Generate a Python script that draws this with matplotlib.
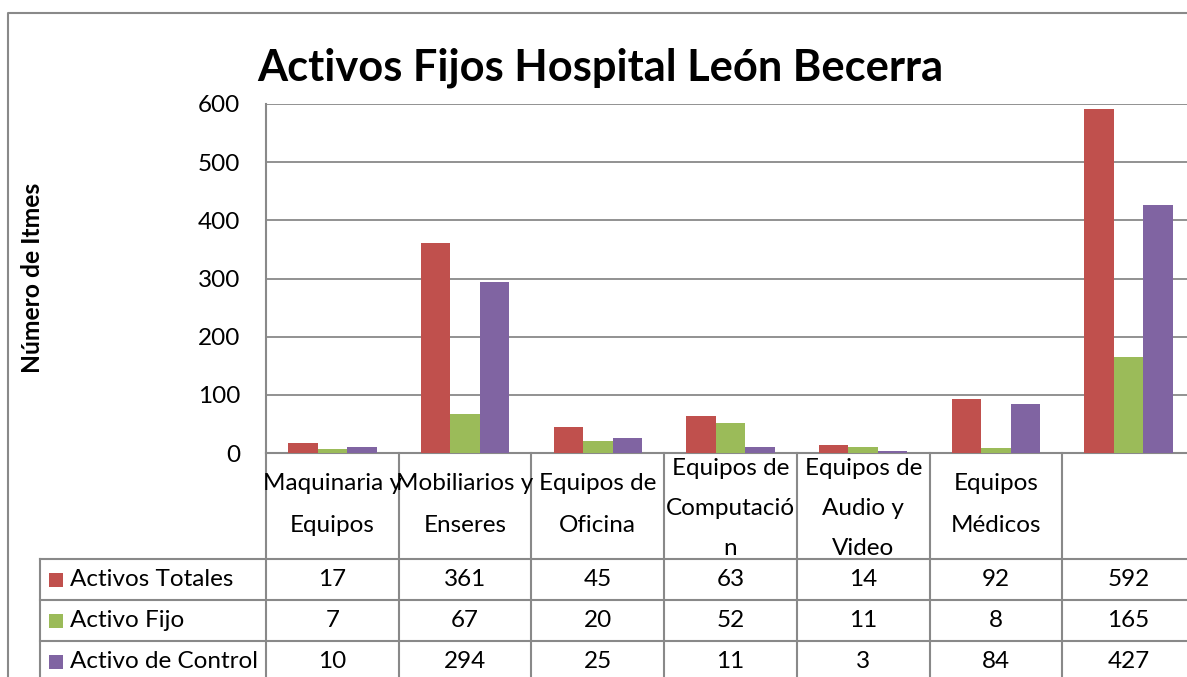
import matplotlib
matplotlib.use("Agg")
import matplotlib.pyplot as plt
from matplotlib.patches import Rectangle

# ---------------- data ----------------
categories = ["Maquinaria y\nEquipos", "Mobiliarios y\nEnseres", "Equipos de\nOficina",
              "Equipos de\nComputació\nn", "Equipos de\nAudio y\nVideo", "Equipos\nMédicos", ""]
series_names = ["Activos Totales", "Activo Fijo", "Activo de Control"]
activos_totales = [17, 361, 45, 63, 14, 92, 592]
activo_fijo = [7, 67, 20, 52, 11, 8, 165]
activo_control = [10, 294, 25, 11, 3, 84, 427]
y_ticks = [0, 100, 200, 300, 400, 500, 600]
title = "Activos Fijos Hospital León Becerra"
ylabel = "Número de Itmes"

colors = ["#C0504D", "#9BBB59", "#8064A2"]
GRID = "#898989"
FAM = ["Lato", "DejaVu Sans"]

W, H = 1187, 677
fig = plt.figure(figsize=(W / 100, H / 100), dpi=100)
renderer = fig.canvas.get_renderer()


def fit(text, target, weight="normal", base=20.0):
    t = fig.text(0, 0, text, fontsize=base, family=FAM, weight=weight)
    w = t.get_window_extent(renderer).width
    t.remove()
    return base * target / w


body_fs = fit("Activos Totales", 163)
title_fs = fit(title, 685, "bold")
ylab_fs = fit(ylabel, 190, "bold")

# plot area in pixel coordinates
L, R, T, B = 266, 1195, 104, 453
ax = fig.add_axes([L / W, (H - B) / H, (R - L) / W, (B - T) / H])
series = [activos_totales, activo_fijo, activo_control]
n = len(categories)
bw = 1 / 4.5
for k, vals in enumerate(series):
    xs = [i + 0.5 + (k - 1) * bw for i in range(n)]
    ax.bar(xs, vals, width=bw, color=colors[k], zorder=3, linewidth=0)
ax.set_xlim(0, n)
ax.set_ylim(0, 600)
ax.set_yticks(y_ticks)
ax.set_yticklabels([str(v) for v in y_ticks], fontsize=body_fs, family=FAM)
ax.tick_params(axis="y", length=0, pad=26 * 72 / 100)
ax.set_xticks([])
ax.grid(axis="y", color=GRID, linewidth=1.3, zorder=0)
for s in ["top", "right"]:
    ax.spines[s].set_visible(False)
for s in ["left", "bottom"]:
    ax.spines[s].set_color(GRID)
    ax.spines[s].set_linewidth(1.5)
ax.set_clip_on(False)

# overlay in pixel coordinates
ov = fig.add_axes([0, 0, 1, 1], zorder=5)
ov.set_xlim(0, W)
ov.set_ylim(H, 0)
ov.axis("off")
ov.patch.set_alpha(0)

# chart border
ov.plot([8, 8, W + 5], [H + 5, 13, 13], color=GRID, lw=1.5, solid_capstyle="butt")

# title & y label
ov.text(600, 80, title, fontsize=title_fs, weight="bold", family=FAM, ha="center", va="baseline")
ov.text(33, 278, ylabel, fontsize=ylab_fs, weight="bold", family=FAM, rotation=90,
        ha="center", va="center")

# data table
colx = [ax.transData.transform((i, 0))[0] for i in range(n + 1)]
row_lines = [559, 600, 641, 682]
for x in colx:
    ov.plot([x, x], [B, H + 5], color=GRID, lw=1.5)
ov.plot([40, 40], [row_lines[0], H + 5], color=GRID, lw=1.5)
for y in row_lines[:-1]:
    ov.plot([40, W + 5], [y, y], color=GRID, lw=1.5)

# header labels
for i, lab in enumerate(categories):
    if not lab:
        continue
    lines = lab.split("\n")
    cx = (colx[i] + colx[i + 1]) / 2
    nl = len(lines)
    center = 495 + 4.5 * nl
    sp = 40 if nl == 3 else 42
    for j, ln in enumerate(lines):
        y = center + (j - (nl - 1) / 2) * sp
        ov.text(cx, y, ln, fontsize=body_fs, family=FAM, ha="center", va="center")

# value rows
row_c = [(row_lines[r] + row_lines[r + 1]) / 2 for r in range(3)]
for r, (name, vals) in enumerate(zip(series_names, series)):
    yc = row_c[r]
    ov.add_patch(Rectangle((49, yc - 7), 14, 14, color=colors[r], lw=0))
    ov.text(70, yc, name, fontsize=body_fs, family=FAM, ha="left", va="center")
    for i, v in enumerate(vals):
        cx = (colx[i] + colx[i + 1]) / 2
        ov.text(cx, yc, str(v), fontsize=body_fs, family=FAM, ha="center", va="center")

fig.savefig("out.png", dpi=100)
